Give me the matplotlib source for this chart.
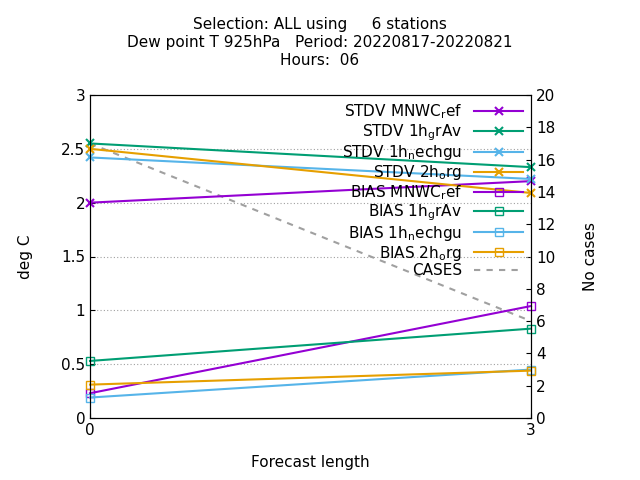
import matplotlib
matplotlib.use('Agg')
import matplotlib.pyplot as plt

x = [0, 3]
stdv_mnwc = [2.0, 2.2]
stdv_grav = [2.55, 2.33]
stdv_nechgu = [2.42, 2.22]
stdv_org = [2.5, 2.09]
bias_mnwc = [0.23, 1.04]
bias_grav = [0.53, 0.83]
bias_nechgu = [0.19, 0.45]
bias_org = [0.31, 0.44]
cases = [17, 6]

purple, green, blue, orange = '#9400d3', '#009e73', '#56b4e9', '#e69f00'

fig = plt.figure(figsize=(6.4, 4.8), dpi=100)
ax = fig.add_axes([90/640, 62/480, 441/640, 323/480])
ax2 = ax.twinx()
ax.set_zorder(ax2.get_zorder() + 1)
ax.patch.set_visible(False)

for v in [0.5, 1, 1.5, 2, 2.5]:
    ax.axhline(v, color='#a0a0a0', lw=0.8, ls=(0, (1, 2)), zorder=0)

sub = lambda a, b, c: f'{a}$_\\mathregular{{{b}}}${c}'
kw = dict(clip_on=False)
ax.plot(x, stdv_mnwc, color=purple, marker='x', mew=1.5, label=sub('STDV MNWC', 'r', 'ef'), **kw)
ax.plot(x, stdv_grav, color=green, marker='x', mew=1.5, label=sub('STDV 1h', 'g', 'rAv'), **kw)
ax.plot(x, stdv_nechgu, color=blue, marker='x', mew=1.5, label=sub('STDV 1h', 'n', 'echgu'), **kw)
ax.plot(x, stdv_org, color=orange, marker='x', mew=1.5, label=sub('STDV 2h', 'o', 'rg'), **kw)
ax.plot(x, bias_mnwc, color=purple, marker='s', mfc='none', label=sub('BIAS MNWC', 'r', 'ef'), **kw)
ax.plot(x, bias_grav, color=green, marker='s', mfc='none', label=sub('BIAS 1h', 'g', 'rAv'), **kw)
ax.plot(x, bias_nechgu, color=blue, marker='s', mfc='none', label=sub('BIAS 1h', 'n', 'echgu'), **kw)
ax.plot(x, bias_org, color=orange, marker='s', mfc='none', label=sub('BIAS 2h', 'o', 'rg'), **kw)
ln, = ax2.plot(x, cases, color='#a0a0a0', ls=(0, (3, 3)), lw=1.5, label='CASES')

ax.set_xlim(0, 3)
ax.set_ylim(0, 3)
ax2.set_ylim(0, 20)
ax.set_xticks([0, 3])
ax.set_yticks([0, 0.5, 1, 1.5, 2, 2.5, 3])
ax.set_yticklabels(['0', '0.5', '1', '1.5', '2', '2.5', '3'])
ax2.set_yticks(range(0, 21, 2))
ax.tick_params(direction='in', labelsize=11)
ax2.tick_params(direction='in', labelsize=11)
ax.set_xlabel('Forecast length', fontsize=11, labelpad=12)
ax.set_ylabel('deg C', fontsize=11, labelpad=20)
ax2.set_ylabel('No cases', fontsize=11, labelpad=20)

h, l = ax.get_legend_handles_labels()
leg = ax.legend(h + [ln], l + ['CASES'], loc='upper right', markerfirst=False,
                frameon=False, fontsize=11, handlelength=3.2, labelspacing=0.05,
                borderaxespad=0.1)
for t in leg.get_texts():
    t.set_ha('right')
leg._legend_box.align = 'right'

fig.text(0.5, 0.965, 'Selection: ALL using     6 stations\nDew point T 925hPa   Period: 20220817-20220821\nHours:  06',
         ha='center', va='top', fontsize=11, linespacing=1.25)
fig.savefig('out.png')
